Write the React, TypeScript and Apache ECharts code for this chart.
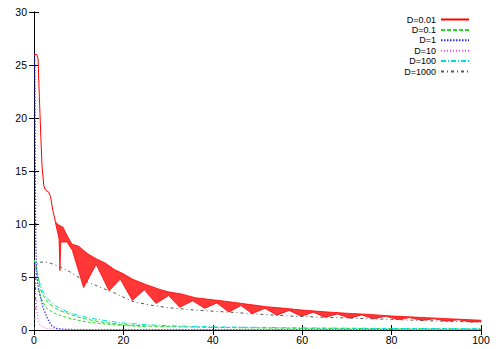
import React, { useEffect, useRef } from "react";
import * as echarts from "echarts";

// D=0.01 : initial single line, then a thick oscillating band (upper / lower envelopes)
const d001Head: number[][] = [
  [0, 26], [0.6, 26], [0.9, 25.6], [1.2, 22], [1.5, 18.5], [1.8, 15.5], [2.2, 13.6],
  [2.6, 13.2], [3.3, 13.0], [3.7, 12.6], [4.2, 11.3], [4.8, 10.2],
];
const d001Upper: number[][] = [
  [4.8, 10.2], [5.5, 9.9], [6.5, 9.7], [7.4, 8.9], [8.5, 8.1], [10, 7.9], [12, 7.2], [14, 6.7],
  [16, 6.3], [18, 5.7], [20, 5.3], [22, 4.8], [25, 4.3], [28, 3.85], [30, 3.6], [33, 3.4],
  [36, 3.05], [40, 2.85], [44, 2.65], [48, 2.42], [52, 2.2], [56, 2.05], [60, 1.88], [65, 1.72],
  [70, 1.58], [75, 1.47], [80, 1.32], [85, 1.22], [90, 1.12], [95, 1.02], [100, 0.92],
];
const d001Lower: number[][] = [
  [4.8, 10.1], [5.6, 8.6], [5.8, 5.6], [6.0, 8.3], [7.4, 8.3], [8.6, 7.5], [11.1, 4.0],
  [13.9, 6.2], [16.8, 3.7], [19.3, 4.8], [22.0, 2.8], [24.7, 3.8], [27.3, 2.5], [30.1, 3.25],
  [32.6, 2.15], [35.5, 2.75], [38.2, 2.05], [40.9, 2.55], [43.6, 1.7], [46.3, 2.3], [48.8, 1.55],
  [51.7, 2.05], [54.3, 1.4], [57.1, 1.85], [59.8, 1.3], [62.5, 1.68], [65.1, 1.2], [67.9, 1.52],
  [70.6, 1.12], [73.3, 1.42], [76.0, 1.05], [78.7, 1.3], [81.4, 0.98], [84.1, 1.17],
  [86.8, 0.9], [89.5, 1.06], [92.2, 0.83], [94.9, 0.96], [97.6, 0.76], [100, 0.78],
];
// D=0.1 : noisy band, drawn as upper and lower dashed edges
const d01: number[][] = [
  [0.05, 6.6], [0.3, 6.4], [0.6, 5.8], [1, 4.7], [1.5, 3.8], [2, 3.3], [3, 2.65], [4, 2.3],
  [5, 2.0], [6, 1.8], [8, 1.5], [10, 1.2], [12, 1.0], [15, 0.75], [20, 0.5], [25, 0.38],
  [30, 0.32], [40, 0.24], [60, 0.16], [100, 0.1],
];
const d01Low: number[][] = [
  [1, 3.9], [1.5, 3.1], [2, 2.6], [3, 2.0], [4, 1.7], [5, 1.5], [6, 1.35], [8, 1.1],
  [10, 0.9], [12, 0.75], [15, 0.6], [20, 0.42], [25, 0.33],
];
const d1: number[][] = [
  [0.15, 26], [0.2, 24], [0.25, 20], [0.3, 14], [0.4, 8], [0.6, 5.2], [1, 3.9], [1.5, 3.0],
  [2, 2.2], [2.5, 1.6], [3, 1.1], [3.5, 0.7], [4, 0.4], [5, 0.15], [7, 0.05], [100, 0.02],
];
const d10: number[][] = [
  [0.1, 6.5], [0.2, 6.2], [0.3, 4.8], [0.4, 3.4], [0.6, 2.0], [0.9, 1.0], [1.3, 0.5],
  [2, 0.25], [3, 0.15], [5, 0.08], [10, 0.04], [100, 0.02],
];
const d100: number[][] = [
  [0.05, 6.5], [0.3, 6.3], [0.7, 5.5], [1.3, 4.4], [2, 3.6], [3, 2.95], [4, 2.55], [5, 2.25],
  [6.5, 1.9], [8, 1.62], [10, 1.37], [12, 1.17], [14, 1.02], [17, 0.82], [20, 0.66], [25, 0.5],
  [30, 0.4], [40, 0.3], [60, 0.2], [80, 0.15], [100, 0.12],
];
const d1000: number[][] = [
  [0.1, 0], [0.5, 6.0], [1, 6.4], [3, 6.4], [5, 6.1], [8, 5.5], [11, 4.7], [15, 4.0], [18, 3.5],
  [22, 2.7], [26, 2.35], [30, 2.1], [37, 1.85], [45, 1.65], [50, 1.5], [58, 1.3], [65, 1.2],
  [80, 1.0], [90, 0.85], [100, 0.75],
];
const legendNames = ["D=0.01", "D=0.1", "D=1", "D=10", "D=100", "D=1000"];

const FONT = "'Liberation Sans', Arial, sans-serif";

export default function App() {
  const ref = useRef<HTMLDivElement>(null);
  useEffect(() => {
    if (!ref.current) return;
    const chart = echarts.init(ref.current, undefined, { renderer: "svg" });
    const axisLine = { show: true, lineStyle: { color: "#000", width: 1 } };
    const tick = { show: true, inside: true, length: 5, lineStyle: { color: "#000", width: 1 } };
    const lineSeries = (name: string, data: number[][], color: string, type: any, width = 1) => ({
      name,
      type: "line",
      data,
      symbol: "none",
      showSymbol: false,
      lineStyle: { color, width, type },
      itemStyle: { color },
      xAxisIndex: 0,
      yAxisIndex: 0,
    });
    chart.setOption({
      animation: false,
      backgroundColor: "#fff",
      textStyle: { fontFamily: FONT },
      grid: { left: 34, top: 12, width: 447, height: 318, containLabel: false },
      legend: {
        data: legendNames,
        orient: "vertical",
        align: "right",
        right: 28,
        top: 15,
        itemWidth: 28,
        itemHeight: 8,
        itemGap: 1.4,
        padding: 0,
        itemStyle: { opacity: 0 },
        textStyle: { fontSize: 9, color: "#000", fontFamily: FONT, lineHeight: 8 },
      },
      xAxis: [
        {
          type: "value", min: 0, max: 100, interval: 20, position: "bottom",
          axisLine, axisTick: tick, splitLine: { show: false },
          axisLabel: { color: "#000", fontSize: 10.5, margin: 4, fontFamily: FONT },
        },
        {
          type: "value", min: 0, max: 100, interval: 20, position: "top",
          axisLine, axisTick: tick, splitLine: { show: false }, axisLabel: { show: false },
        },
      ],
      yAxis: [
        {
          type: "value", min: 0, max: 30, interval: 5, position: "left",
          axisLine, axisTick: tick, splitLine: { show: false },
          axisLabel: { color: "#000", fontSize: 10.5, margin: 7, fontFamily: FONT },
        },
        {
          type: "value", min: 0, max: 30, interval: 5, position: "right",
          axisLine, axisTick: tick, splitLine: { show: false }, axisLabel: { show: false },
        },
      ],
      series: [
        {
          name: "band",
          type: "custom",
          xAxisIndex: 0,
          yAxisIndex: 0,
          data: [[0, 0]],
          renderItem: (_params: any, api: any) => {
            const pts: number[][] = [];
            d001Upper.forEach((p) => pts.push(api.coord(p)));
            for (let i = d001Lower.length - 1; i >= 0; i--) pts.push(api.coord(d001Lower[i]));
            return {
              type: "polygon",
              shape: { points: pts },
              style: { fill: "rgba(255,20,20,0.85)", stroke: "#ff0000", lineWidth: 0.8 },
            };
          },
        },
        lineSeries("D=0.01", d001Head, "#ff0000", "solid"),
        lineSeries("D=0.1", d01, "#22dd22", [4, 2]),
        lineSeries("D=0.1", d01Low, "#22dd22", [3, 2]),
        lineSeries("D=1", d1, "#2a2aff", [1.5, 1.5], 1.2),
        lineSeries("D=10", d10, "#ff40ff", [1, 2]),
        lineSeries("D=100", d100, "#00dede", [5, 2, 1, 2]),
        lineSeries("D=1000", d1000, "#555555", [3, 3, 1, 3]),
      ],
    });
    return () => chart.dispose();
  }, []);
  return (
    <div
      ref={ref}
      style={{ position: "fixed", left: 0, top: 0, width: 498, height: 349, background: "#fff" }}
    />
  );
}
